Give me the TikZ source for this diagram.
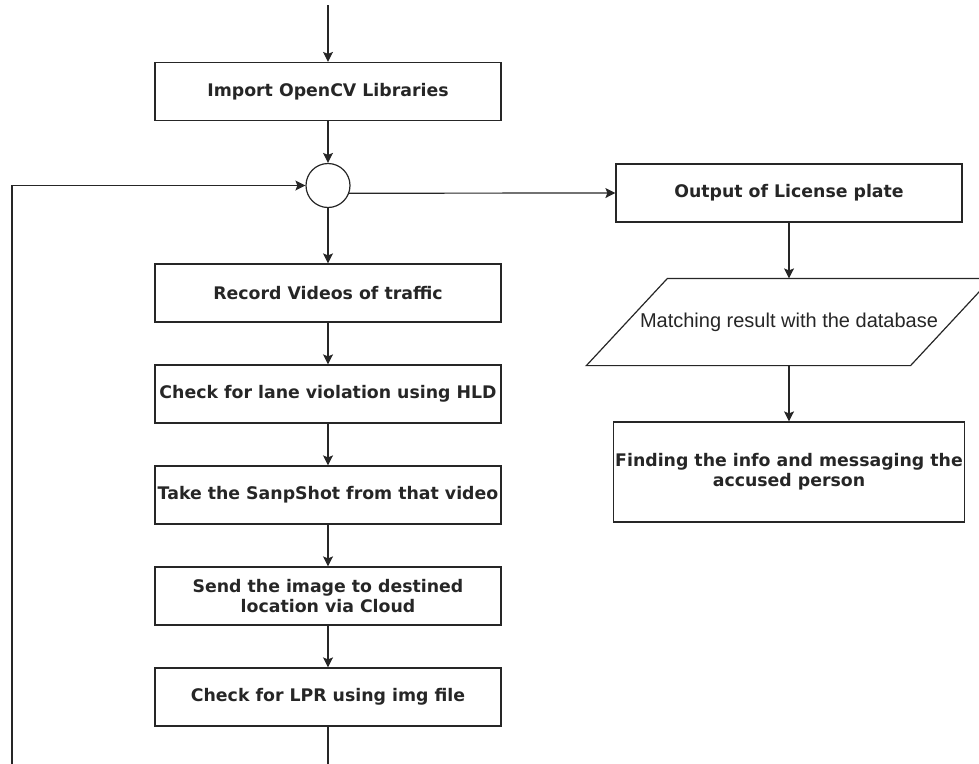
\documentclass[tikz,border=0pt]{standalone}
\usepackage{fontspec}
\setmainfont{DejaVu Sans}
\newfontfamily\matchfont{Liberation Sans}
\usetikzlibrary{arrows.meta}

\begin{document}
\begin{tikzpicture}[x=0.75pt,y=-0.75pt,
  line width=0.9pt, draw=black!85,
  >={Stealth[length=7.5pt,width=7.5pt,inset=1.5pt]},
  proc/.style={draw, rectangle, minimum width=259.5pt, minimum height=43.5pt,
    inner sep=1pt, align=center, text=black!85,
    font=\fontsize{13}{15}\selectfont\bfseries},
  io/.style={rectangle, minimum width=242.25pt, minimum height=64.5pt,
    inner sep=1pt, text=black!85, font=\matchfont\fontsize{15}{18}\selectfont},
  junc/.style={draw, circle, minimum size=33pt, inner sep=0pt}]
  \useasboundingbox (0,0) rectangle (979,764);

  \node[proc] (libs) at (328,91.5) {Import OpenCV Libraries};
  \node[junc] (circ) at (328,185.5) {};
  \node[proc] (rec)  at (328,293) {Record Videos of traffic};
  \node[proc] (lane) at (328,394) {Check for lane violation using HLD};
  \node[proc] (snap) at (328,495) {Take the SanpShot from that video};
  \node[proc] (send) at (328,596) {Send the image to destined\\location via Cloud};
  \node[proc] (lpr)  at (328,697) {Check for LPR using img file};

  \node[proc] (plate) at (789,193) {Output of License plate};
  \node[io]   (match) at (789,322) {Matching result with the database};
  \node[proc, minimum height=75pt] (info) at (789,472)
    {Finding the info and messaging the\\accused person};
  \draw ([xshift=-30.4pt]match.south west) -- ([xshift=30.4pt]match.north west)
    -- ([xshift=30.4pt]match.north east) -- ([xshift=-30.4pt]match.south east) -- cycle;

  \coordinate (start) at (328,5);
  \coordinate (lpr-out) at (328,764);
  \coordinate (back-in) at (12,764);

  \path[->]
  (start) edge (libs)
  (libs) edge (circ)
  (circ) edge (rec)
  (rec) edge (lane)
  (lane) edge (snap)
  (snap) edge (send)
  (send) edge (lpr)
  (circ.-20) edge (plate.west)
  (plate) edge (match)
  (match) edge (info);
  \draw (lpr) -- (lpr-out);
  \draw[->] (back-in) |- (circ.west);
\end{tikzpicture}
\end{document}
